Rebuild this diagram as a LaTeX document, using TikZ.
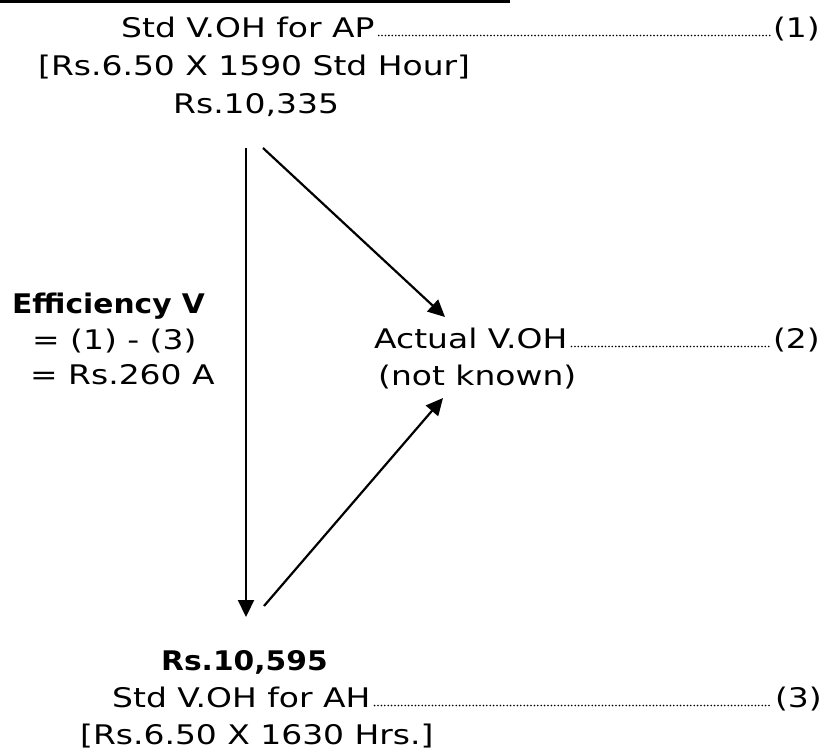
\documentclass[tikz,border=0pt]{standalone}
\usepackage{fontspec}
\setmainfont[FakeStretch=1.22]{DejaVu Sans}
\newfontfamily\boldfam[FakeStretch=1.1]{DejaVu Sans Bold}
\usetikzlibrary{arrows.meta}
\tikzset{
  txt/.style={inner sep=0pt, anchor=base west, font=\fontsize{27}{32}\selectfont},
  num/.style={txt, anchor=base east},
  boldtxt/.style={inner sep=0pt, anchor=base west, font=\fontsize{27}{32}\boldfam},
  leader/.style={line width=1.8pt, dash pattern=on 0pt off 3.4pt, line cap=round},
  conn/.style={line width=2.2pt, -{Triangle[length=17pt,width=16pt]}},
  rule/.style={line width=3pt}
}
\begin{document}
\begin{tikzpicture}[x=1pt,y=-1pt]
\useasboundingbox[fill=white] (0,0) rectangle (840,753);
% top rule (cut-off underline)
\coordinate (rl) at (0,1.5);
\coordinate (rr) at (510,1.5);
\draw[rule] (rl) -- (rr);
% top block
\node[txt] (ap) at (121,37) {Std V.OH for AP};
\node[num] (n1) at (820,37) {(1)};
\node[txt] (apcalc) at (38,75) {[Rs.6.50 X 1590 Std Hour]};
\node[txt] (apval) at (173,113) {Rs.10,335};
% left block
\node[boldtxt] (eff) at (12,313) {Efficiency V};
\node[txt] (effa) at (32,349) {= (1) - (3)};
\node[txt] (effb) at (30,384) {= Rs.260 A};
% middle right
\node[txt] (act) at (374,348) {Actual V.OH};
\node[num] (n2) at (820,348) {(2)};
\node[txt] (nk) at (378,385) {(not known)};
% bottom block
\node[boldtxt] (ahval) at (161,670) {Rs.10,595};
\node[txt] (ah) at (112,707) {Std V.OH for AH};
\node[num] (n3) at (822,707) {(3)};
\node[txt] (ahcalc) at (80,744) {[Rs.6.50 X 1630 Hrs.]};
% leaders
\draw[leader] ([xshift=4pt,yshift=1.5pt]ap.base east) -- ([xshift=-3pt,yshift=1.5pt]n1.base west);
\draw[leader] ([xshift=4pt,yshift=1.5pt]act.base east) -- ([xshift=-3pt,yshift=1.5pt]n2.base west);
\draw[leader] ([xshift=4pt,yshift=1.5pt]ah.base east) -- ([xshift=-3pt,yshift=1.5pt]n3.base west);
% arrows
\coordinate (vt) at (246,148);
\coordinate (vb) at (246,617);
\coordinate (d1s) at (263,148);
\coordinate (d1e) at (445,317);
\coordinate (d2s) at (264,606);
\coordinate (d2e) at (443,398);
\draw[conn] (vt) -- (vb);
\draw[conn] (d1s) -- (d1e);
\draw[conn] (d2s) -- (d2e);
\end{tikzpicture}
\end{document}
